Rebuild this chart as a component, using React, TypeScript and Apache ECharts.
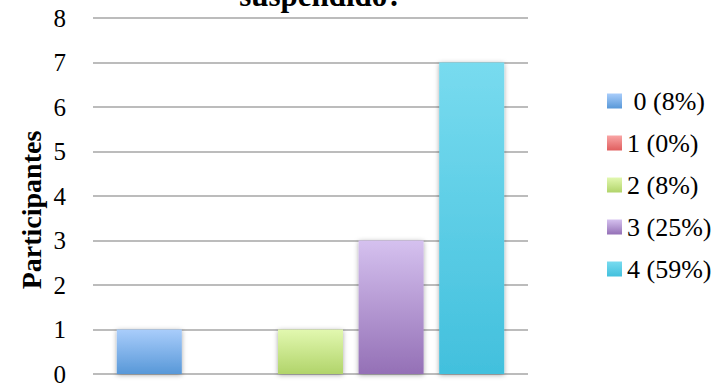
import React, { useEffect, useRef } from "react";
import * as echarts from "echarts";

const categories = [""];
const seriesNames = [" 0 (8%)", "1 (0%)", "2 (8%)", "3 (25%)", "4 (59%)"];
const seriesValues = [1, 0, 1, 3, 7];
const topColors = ["#a9cdfb", "#f9a5a5", "#e2f8b0", "#d5c1ef", "#78dbef"];
const bottomColors = ["#5898d8", "#e05e5e", "#b1d46a", "#9470b6", "#42c0dd"];
const yTicks = [0, 1, 2, 3, 4, 5, 6, 7, 8];
const titleText = "suspendido?";
const yAxisTitle = "Participantes";

const FONT = "'Liberation Serif', 'Times New Roman', serif";

export default function App() {
  const ref = useRef<HTMLDivElement>(null);
  useEffect(() => {
    document.body.style.margin = "0";
    if (!ref.current) return;
    const chart = echarts.init(ref.current, undefined, { renderer: "svg" });
    const series = seriesNames.map((name, i) => ({
      name,
      type: "bar",
      barWidth: 65,
      barGap: "24%",
      data: [seriesValues[i]],
      itemStyle: {
        color: new echarts.graphic.LinearGradient(0, 0, 0, 1, [
          { offset: 0, color: topColors[i] },
          { offset: 1, color: bottomColors[i] },
        ]),
        shadowBlur: 5,
        shadowColor: "rgba(0,0,0,0.35)",
        shadowOffsetX: 0,
        shadowOffsetY: 1,
      },
    }));
    chart.setOption({
      animation: false,
      textStyle: { fontFamily: FONT },
      grid: { left: 93, right: 188, top: 18, bottom: 16, containLabel: false },
      xAxis: {
        type: "category",
        data: categories,
        axisLine: { show: false },
        axisTick: { show: false },
        axisLabel: { show: false },
      },
      yAxis: {
        type: "value",
        min: yTicks[0],
        max: yTicks[yTicks.length - 1],
        interval: 1,
        axisLine: { show: false },
        axisTick: { show: false },
        axisLabel: {
          margin: 27,
          fontFamily: FONT,
          fontSize: 25,
          color: "#000",
        },
        splitLine: { lineStyle: { color: "#a6a6a6", width: 1.6 } },
      },
      legend: {
        orient: "vertical",
        left: 602,
        top: 83,
        itemWidth: 15,
        itemHeight: 15,
        itemGap: 16,
        itemStyle: { shadowBlur: 0 },
        textStyle: {
          fontFamily: FONT,
          fontSize: 26,
          lineHeight: 26,
          color: "#000",
        },
        data: seriesNames.map((n) => ({ name: n, icon: "rect" })),
      },
      graphic: [
        {
          type: "text",
          x: 321,
          y: -5,
          style: {
            text: titleText,
            font: `bold 31px ${FONT}`,
            fill: "#000",
            align: "center",
            verticalAlign: "middle",
          },
        },
        {
          type: "text",
          x: 31,
          y: 210,
          rotation: Math.PI / 2,
          style: {
            text: yAxisTitle,
            font: `bold 28px ${FONT}`,
            fill: "#000",
            align: "center",
            verticalAlign: "middle",
          },
        },
      ],
      series,
    });
    return () => chart.dispose();
  }, []);
  return <div ref={ref} style={{ width: 716, height: 390 }} />;
}
